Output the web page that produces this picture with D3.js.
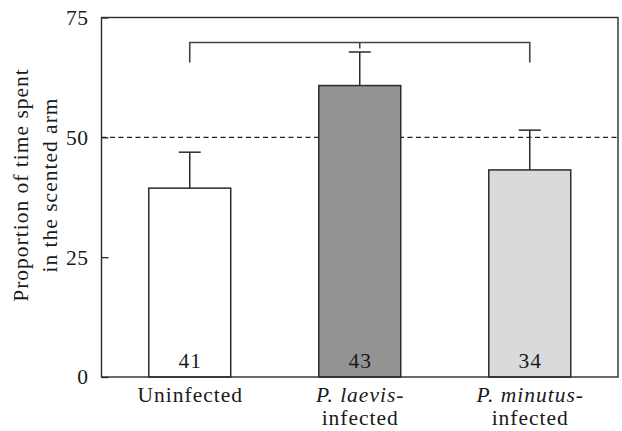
<!DOCTYPE html>
<html><head><meta charset="utf-8">
<script src="https://cdn.jsdelivr.net/npm/d3@7"></script>
<style>
html,body{margin:0;padding:0;background:#fff;}
text{font-family:"Liberation Serif","Times New Roman",serif;font-size:21.5px;fill:#1a1a1a;letter-spacing:1px;}
</style></head>
<body>
<svg id="c" width="622" height="431"></svg>
<script>
const categories = ["Uninfected", "P. laevis-infected", "P. minutus-infected"];
const means = [39.4, 60.8, 43.2];
const errors = [7.5, 7.0, 8.3];
const sampleSizes = [41, 43, 34];
const fills = ["#ffffff", "#939393", "#d9dadb"];
const yTicks = [0, 25, 50, 75];
const chanceLevel = 50;
const bracketLevel = 69.8;
const bracketLegEnd = 65.6;

const W = 622, H = 431;
const m = {left: 101.5, top: 17.5, right: 4, bottom: 54};
const svg = d3.select("#c");
const x = d3.scaleBand().domain(categories).range([m.left, W - m.right]).paddingInner(0.518).paddingOuter(0.278);
const y = d3.scaleLinear().domain([0, 75]).range([H - m.bottom, m.top]);
const stroke = "#2b2b2b";

// y ticks (inward) + labels
const yAxis = d3.axisLeft(y).tickValues(yTicks).tickSize(-7).tickPadding(13).tickFormat(d3.format("d"));
const ga = svg.append("g").attr("transform", `translate(${m.left},0)`).call(yAxis);
ga.select(".domain").remove();
ga.selectAll(".tick line").attr("stroke", stroke).attr("stroke-width", 1.3);
ga.selectAll(".tick text").attr("font-size", null).attr("font-family", null).style("letter-spacing","0.5px");

// dashed 50% line
svg.append("line").attr("x1", m.left).attr("x2", W - m.right)
  .attr("y1", y(chanceLevel)).attr("y2", y(chanceLevel))
  .attr("stroke", "#222").attr("stroke-width", 1.4).attr("stroke-dasharray", "5,3.5");

// error bars
const eb = svg.append("g");
categories.forEach((c, i) => {
  const cx = x(c) + x.bandwidth() / 2;
  eb.append("line").attr("x1", cx).attr("x2", cx).attr("y1", y(means[i])).attr("y2", y(means[i] + errors[i]))
    .attr("stroke", stroke).attr("stroke-width", 1.5);
  eb.append("line").attr("x1", cx - 11).attr("x2", cx + 11).attr("y1", y(means[i] + errors[i])).attr("y2", y(means[i] + errors[i]))
    .attr("stroke", stroke).attr("stroke-width", 1.5);
});

// bars
svg.append("g").selectAll("rect").data(categories).join("rect")
  .attr("x", d => x(d)).attr("width", x.bandwidth())
  .attr("y", (d, i) => y(means[i])).attr("height", (d, i) => y(0) - y(means[i]))
  .attr("fill", (d, i) => fills[i]).attr("stroke", stroke).attr("stroke-width", 1.5);

// sample sizes
svg.append("g").selectAll("text").data(categories).join("text")
  .attr("x", d => x(d) + x.bandwidth() / 2 + 0.5).attr("y", y(0) - 9)
  .attr("text-anchor", "middle").text((d, i) => sampleSizes[i]);

// bracket
const c0 = x(categories[0]) + x.bandwidth() / 2;
const c1 = x(categories[1]) + x.bandwidth() / 2;
const c2 = x(categories[2]) + x.bandwidth() / 2;
svg.append("path")
  .attr("d", `M${c0},${y(bracketLegEnd)}V${y(bracketLevel)}H${c2}V${y(bracketLegEnd)}`)
  .attr("fill", "none").attr("stroke", "#444").attr("stroke-width", 1.6);
svg.append("line").attr("x1", c1).attr("x2", c1).attr("y1", y(bracketLevel)).attr("y2", y(bracketLevel) + 6)
  .attr("stroke", "#444").attr("stroke-width", 1.6);

// frame
svg.append("rect").attr("x", m.left).attr("y", m.top).attr("width", W - m.right - m.left).attr("height", H - m.bottom - m.top)
  .attr("fill", "none").attr("stroke", stroke).attr("stroke-width", 1.4);

// x labels
const xl = svg.append("g");
const labelLines = [
  [[{t: "Uninfected", i: false}]],
  [[{t: "P. laevis", i: true}, {t: "-", i: false}], [{t: "infected", i: false}]],
  [[{t: "P. minutus", i: true}, {t: "-", i: false}], [{t: "infected", i: false}]]
];
categories.forEach((c, k) => {
  const cx = x(c) + x.bandwidth() / 2 + 0.5;
  labelLines[k].forEach((ln, j) => {
    const t = xl.append("text").attr("x", cx).attr("y", 401.5 + j * 23.5).attr("text-anchor", "middle");
    ln.forEach(s => t.append("tspan").attr("font-style", s.i ? "italic" : "normal").text(s.t));
  });
});

// y title
const yt = svg.append("text").attr("transform", "translate(0,185) rotate(-90)").attr("text-anchor", "middle");
yt.append("tspan").attr("x", 0).attr("y", 28).text("Proportion of time spent");
yt.append("tspan").attr("x", 0).attr("y", 57).text("in the scented arm");
</script>
</body></html>
